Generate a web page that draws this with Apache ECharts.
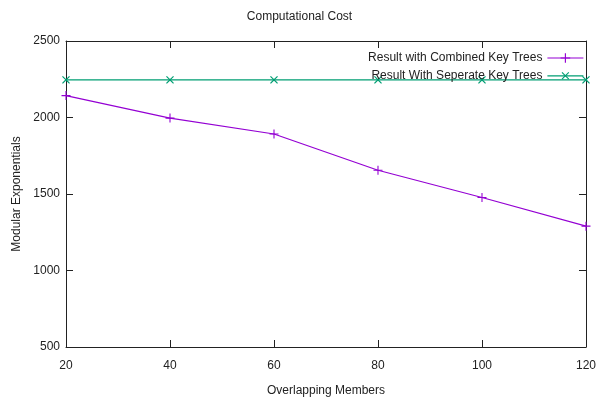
<!DOCTYPE html>
<html>
<head>
<meta charset="utf-8">
<script src="https://cdn.jsdelivr.net/npm/echarts@6/dist/echarts.min.js"></script>
<style>html,body{margin:0;padding:0;background:#fff}#c{width:599px;height:402px}</style>
</head>
<body>
<div id="c"></div>
<script>
var members = [20, 40, 60, 80, 100, 120];
var combined = [2143, 1996, 1892, 1655, 1477, 1290];
var separate = [2246, 2246, 2246, 2246, 2246, 2246];
var combinedName = 'Result with Combined Key Trees';
var separateName = 'Result With Seperate Key Trees';

function pairs(xs, ys) { return xs.map(function (x, i) { return [x, ys[i]]; }); }

var FONT = 'Liberation Sans';
var plus = 'path://M4.4,0H5.6V4.4H10V5.6H5.6V10H4.4V5.6H0V4.4H4.4Z';
var axisLineStyle = { color: '#222', width: 1 };
var plain = function (v) { return String(v); };
var chart = echarts.init(document.getElementById('c'), null, { renderer: 'canvas' });
chart.setOption({
  animation: false,
  backgroundColor: '#fff',
  textStyle: { fontFamily: FONT },
  title: {
    text: 'Computational Cost', left: 'center', top: 6,
    textStyle: { fontFamily: FONT, fontSize: 12, fontWeight: 'normal', color: '#222' }
  },
  legend: {
    orient: 'vertical', right: 10, top: 47, align: 'right',
    itemWidth: 36, itemHeight: 12, itemGap: 5,
    lineStyle: { width: 1.2 },
    textStyle: { fontFamily: FONT, fontSize: 12, color: '#222' },
    data: [combinedName, separateName]
  },
  grid: { left: 66, right: 10, top: 41, bottom: 54 },
  xAxis: [{
    type: 'value', min: 20, max: 120, interval: 20, position: 'bottom',
    name: 'Overlapping Members', nameLocation: 'middle', nameGap: 38,
    nameTextStyle: { fontFamily: FONT, fontSize: 12, color: '#222' },
    axisLine: { show: true, lineStyle: axisLineStyle },
    axisTick: { inside: true, length: 7, lineStyle: axisLineStyle },
    axisLabel: { margin: 13, fontFamily: FONT, fontSize: 12, color: '#222', formatter: plain },
    splitLine: { show: false }
  }, {
    type: 'value', min: 20, max: 120, interval: 20, position: 'top',
    axisLine: { show: true, lineStyle: axisLineStyle },
    axisTick: { inside: true, length: 7, lineStyle: axisLineStyle },
    axisLabel: { show: false }, splitLine: { show: false }
  }],
  yAxis: [{
    type: 'value', min: 500, max: 2500, interval: 500, position: 'left',
    name: 'Modular Exponentials', nameLocation: 'middle', nameGap: 43,
    nameTextStyle: { fontFamily: FONT, fontSize: 12, color: '#222' },
    axisLine: { show: true, lineStyle: axisLineStyle },
    axisTick: { inside: true, length: 7, lineStyle: axisLineStyle },
    axisLabel: { margin: 6, fontFamily: FONT, fontSize: 12, color: '#222', formatter: plain },
    splitLine: { show: false }
  }, {
    type: 'value', min: 500, max: 2500, interval: 500, position: 'right',
    axisLine: { show: true, lineStyle: axisLineStyle },
    axisTick: { inside: true, length: 7, lineStyle: axisLineStyle },
    axisLabel: { show: false }, splitLine: { show: false }
  }],
  series: [{
    name: combinedName, type: 'line', xAxisIndex: 0, yAxisIndex: 0,
    data: pairs(members, combined),
    symbol: plus, symbolSize: 9, showAllSymbol: true,
    lineStyle: { color: '#9400D3', width: 1.2 },
    itemStyle: { color: '#9400D3' }
  }, {
    name: separateName, type: 'line', xAxisIndex: 0, yAxisIndex: 0,
    data: pairs(members, separate),
    symbol: plus, symbolRotate: 45, symbolSize: 10, showAllSymbol: true,
    lineStyle: { color: '#009E73', width: 1.2 },
    itemStyle: { color: '#009E73' }
  }]
});
</script>
</body>
</html>
